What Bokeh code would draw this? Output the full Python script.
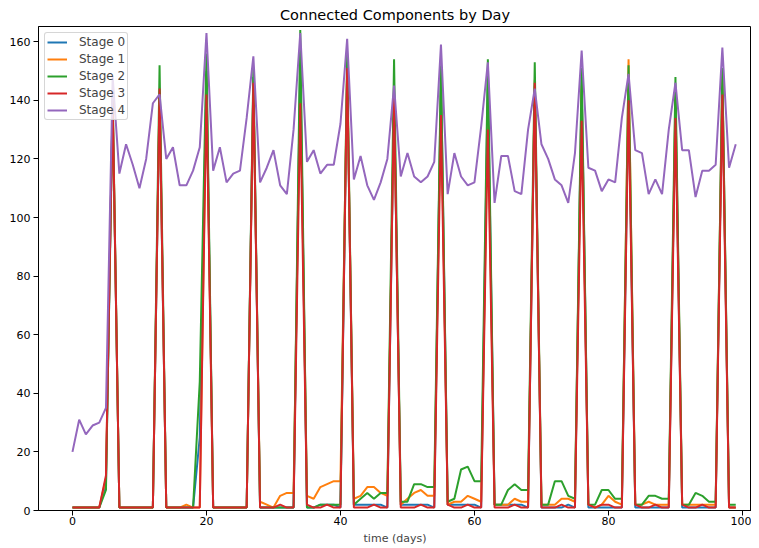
from bokeh.plotting import figure
from bokeh.models import Range1d, FixedTicker, Legend, LegendItem
from bokeh.embed import file_html
from bokeh.resources import INLINE

days = list(range(100))

stage0 = [1, 1, 1, 1, 1, 9, 138,
          1, 1, 1, 1, 1, 1, 141,
          1, 1, 1, 1, 1, 25, 150,
          1, 1, 1, 1, 1, 1, 148,
          1, 1, 1, 1, 1, 1, 155,
          1, 1, 2, 2, 2, 1, 150,
          2, 2, 2, 2, 2, 1, 140,
          2, 2, 2, 2, 2, 1, 150,
          2, 2, 2, 2, 2, 1, 148,
          2, 2, 2, 2, 2, 1, 145,
          1, 1, 1, 1, 2, 1, 148,
          1, 1, 1, 1, 1, 1, 145,
          1, 1, 1, 1, 1, 1, 140,
          1, 1, 1, 1, 1, 1, 148,
          1, 1]

stage1 = [1, 1, 1, 1, 1, 11, 140,
          1, 1, 1, 1, 1, 1, 143,
          1, 1, 1, 2, 1, 1, 148,
          1, 1, 1, 1, 1, 1, 147,
          3, 2, 1, 5, 6, 6, 150,
          5, 4, 8, 9, 10, 10, 152,
          4, 5, 8, 8, 6, 5, 142,
          2, 4, 6, 7, 5, 5, 145,
          2, 3, 3, 5, 4, 3, 140,
          2, 2, 2, 4, 3, 3, 147,
          2, 2, 2, 4, 4, 3, 145,
          2, 1, 2, 5, 3, 2, 154,
          2, 2, 3, 2, 2, 2, 142,
          2, 2, 2, 2, 2, 2, 150,
          1, 1]

stage2 = [1, 1, 1, 1, 1, 7, 142,
          1, 1, 1, 1, 1, 1, 152,
          1, 1, 1, 1, 1, 44, 156,
          1, 1, 1, 1, 1, 1, 151,
          1, 1, 1, 1, 1, 1, 164,
          1, 1, 2, 2, 2, 2, 156,
          2, 4, 6, 4, 6, 6, 154,
          3, 3, 9, 9, 8, 8, 152,
          3, 4, 14, 15, 10, 10, 154,
          2, 2, 7, 9, 7, 7, 153,
          2, 2, 10, 10, 5, 4, 151,
          2, 2, 7, 7, 4, 4, 152,
          2, 2, 5, 5, 4, 4, 148,
          2, 2, 6, 5, 3, 3, 151,
          2, 2]

stage3 = [1, 1, 1, 1, 1, 12, 140,
          1, 1, 1, 1, 1, 1, 144,
          1, 1, 1, 1, 1, 1, 142,
          1, 1, 1, 1, 1, 1, 146,
          1, 1, 1, 2, 1, 1, 139,
          2, 1, 1, 2, 1, 1, 151,
          1, 1, 1, 2, 1, 1, 141,
          1, 1, 1, 2, 1, 1, 135,
          2, 1, 1, 2, 1, 1, 130,
          1, 1, 1, 2, 1, 1, 146,
          1, 1, 1, 2, 1, 1, 133,
          2, 1, 2, 2, 1, 1, 140,
          2, 1, 1, 2, 1, 1, 134,
          2, 1, 1, 2, 1, 1, 142,
          1, 1]

stage4 = [20, 31, 26, 29, 30, 35, 148,
          115, 125, 118, 110, 120, 139, 142,
          120, 124, 111, 111, 116, 124, 163,
          116, 124, 112, 115, 116, 134, 155,
          112, 117, 123, 111, 108, 130, 163,
          119, 123, 115, 118, 118, 132, 161,
          113, 121, 111, 106, 112, 120, 145,
          114, 122, 114, 112, 114, 119, 159,
          108, 122, 114, 111, 112, 131, 153,
          105, 121, 121, 109, 108, 130, 144,
          125, 120, 113, 111, 105, 122, 157,
          117, 116, 109, 113, 112, 134, 149,
          123, 122, 108, 113, 108, 130, 146,
          123, 123, 107, 116, 116, 118, 158,
          117, 125]

labels = ["Stage 0", "Stage 1", "Stage 2", "Stage 3", "Stage 4"]
colors = ["#1f77b4", "#ff7f0e", "#2ca02c", "#d62728", "#9467bd"]
series = [stage0, stage1, stage2, stage3, stage4]

x_ticks = [0, 20, 40, 60, 80, 100]
y_ticks = [0, 20, 40, 60, 80, 100, 120, 140, 160]

FONT = "DejaVu Sans"

p = figure(frame_width=713, frame_height=484, output_backend="svg",
           toolbar_location=None,
           x_range=Range1d(-5.07, 101.35), y_range=Range1d(0, 165.2),
           min_border_left=38, min_border_right=0, min_border_top=0,
           min_border_bottom=0, title="Connected Components by Day")

p.title.align = "center"
p.title.text_font = FONT
p.title.text_font_size = "14.5px"
p.title.text_font_style = "normal"
p.title.text_color = "#000000"
p.title.standoff = 8

items = []
for lab, col, ys in zip(labels, colors, series):
    r = p.line(days, ys, line_color=col, line_width=2)
    items.append(LegendItem(label=lab, renderers=[r]))

legend = Legend(items=items, location="top_left")
legend.label_text_font = FONT
legend.label_text_font_size = "12px"
legend.label_height = 12
legend.glyph_height = 12
legend.glyph_width = 20
legend.spacing = 3
legend.padding = 2
legend.margin = 6
legend.label_standoff = 12
legend.border_line_color = "#cccccc"
legend.border_line_alpha = 0.8
legend.background_fill_alpha = 0.8
legend.border_radius = 3
p.add_layout(legend)

p.xgrid.visible = False
p.ygrid.visible = False
p.outline_line_color = "#000000"
p.outline_line_width = 1

for ax in (p.xaxis[0], p.yaxis[0]):
    ax.major_label_text_font = FONT
    ax.major_label_text_font_size = "11px"
    ax.major_label_text_color = "#000000"
    ax.axis_line_color = "#000000"
    ax.major_tick_line_color = "#000000"
    ax.major_tick_out = 5
    ax.major_tick_in = 0
    ax.minor_tick_out = 0
    ax.minor_tick_in = 0

p.xaxis.ticker = FixedTicker(ticks=x_ticks)
p.yaxis.ticker = FixedTicker(ticks=y_ticks)
p.xaxis.axis_label = "time (days)"
p.xaxis.axis_label_text_font = FONT
p.xaxis.axis_label_text_font_size = "11px"
p.xaxis.axis_label_text_font_style = "normal"
p.xaxis.axis_label_standoff = 4
p.xaxis.major_label_standoff = 1
p.yaxis.major_label_standoff = 3

open("out.html", "w").write(file_html(p, INLINE))
